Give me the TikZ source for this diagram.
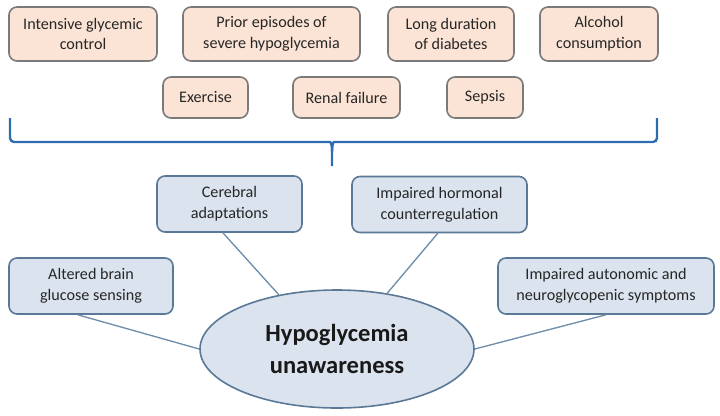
\documentclass[tikz,border=0pt]{standalone}
\usepackage{fontspec}
\setmainfont{Carlito}
\usetikzlibrary{shapes.geometric,calc}
\definecolor{peach}{HTML}{FBE4D5}
\definecolor{boxgray}{HTML}{7A7A7A}
\definecolor{mechfill}{HTML}{DAE3EE}
\definecolor{mechborder}{HTML}{5B7996}
\definecolor{linkcol}{HTML}{6D8DAB}
\definecolor{bracecol}{HTML}{2F6DB3}
\definecolor{textdark}{HTML}{262626}
\begin{document}
\begin{tikzpicture}[x=0.75pt,y=-0.75pt,
  riskbox/.style={draw=boxgray, fill=peach, rounded corners=6pt, line width=1.2pt,
    align=center, inner sep=0pt, text=textdark, font=\fontsize{12.1}{15.5}\selectfont},
  mechbox/.style={draw=mechborder, fill=mechfill, rounded corners=6pt, line width=1.2pt,
    align=center, inner sep=0pt, text=textdark, font=\fontsize{12.1}{15.5}\selectfont,
    minimum height=42pt},
  link/.style={draw=linkcol, line width=1pt},
  bracestyle/.style={draw=bracecol, line width=1.8pt, rounded corners=3pt}]
\useasboundingbox (0,0) rectangle (720,415);

% risk factors, top row
\node[riskbox, minimum width=111pt, minimum height=40.5pt] (igc) at (83,34) {Intensive glycemic\\control};
\node[riskbox, minimum width=132.75pt, minimum height=40.5pt] (pesh) at (271.5,34) {Prior episodes of\\severe hypoglycemia};
\node[riskbox, minimum width=94.5pt, minimum height=40.5pt] (ldd) at (451,34) {Long duration\\of diabetes};
\node[riskbox, minimum width=88.5pt, minimum height=40.5pt] (alc) at (599,34) {Alcohol\\consumption};
% second row
\node[riskbox, minimum width=63.75pt, minimum height=30.75pt] (exe) at (205.5,97.5) {Exercise};
\node[riskbox, minimum width=80.25pt, minimum height=30.75pt] (ren) at (346.5,97.5) {Renal failure};
\node[riskbox, minimum width=57pt, minimum height=30.75pt] (sep) at (485,97.5) {Sepsis};

% brace
\draw[bracestyle] (10,118) -- (10,142) -- (326,142) .. controls (331,142) and (332,146) .. (332,152) -- (332,166);
\draw[bracestyle] (657,118) -- (657,142) -- (338,142) .. controls (333,142) and (332,146) .. (332,152);

% mechanisms
\node[mechbox, minimum width=108.75pt] (cer) at (229.5,204) {Cerebral\\adaptations};
\node[mechbox, minimum width=131.25pt] (hor) at (439.5,204.5) {Impaired hormonal\\counterregulation};
\node[mechbox, minimum width=123pt] (abg) at (91,286) {Altered brain\\glucose sensing};
\node[mechbox, minimum width=162pt] (aut) at (606,286) {Impaired autonomic and\\neuroglycopenic symptoms};

% central ellipse
\node[ellipse, draw=mechborder, fill=mechfill, line width=1.2pt, inner sep=0pt,
  minimum width=205.5pt, minimum height=88.5pt, align=center, text=black!90,
  font=\fontsize{18.4}{24.5}\selectfont\bfseries] (hu) at (337,349) {Hypoglycemia\\unawareness};

% connectors
\draw[link] ($(abg.south west)!0.42!(abg.south east)$) -- (hu.west);
\draw[link] ($(cer.south west)!0.455!(cer.south east)$) -- (hu.137);
\draw[link] ($(hor.south west)!0.49!(hor.south east)$) -- (hu.48);
\draw[link] (aut.south) -- (hu.east);
\end{tikzpicture}
\end{document}
